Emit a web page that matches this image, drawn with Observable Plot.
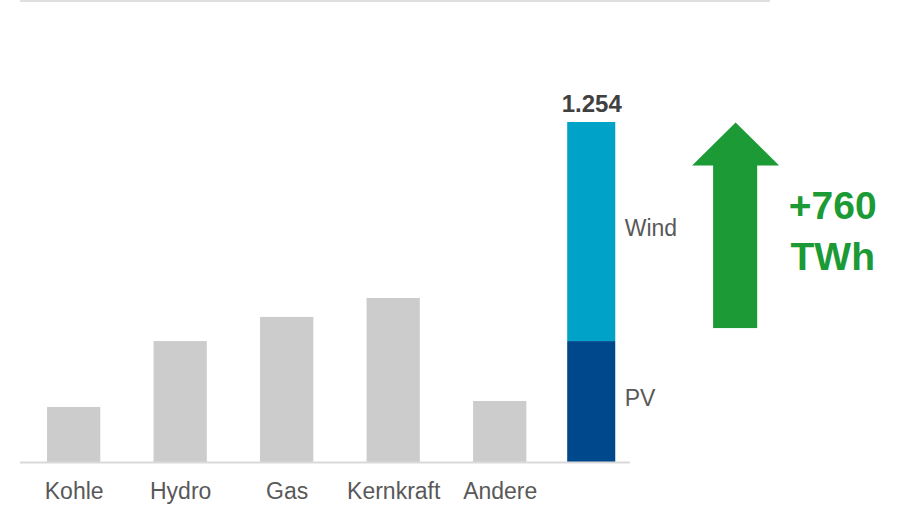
<!DOCTYPE html>
<html>
<head>
<meta charset="utf-8">
<script src="https://cdn.jsdelivr.net/npm/d3@7"></script>
<script src="https://cdn.jsdelivr.net/npm/@observablehq/plot@0.6"></script>
<style>
  html, body { margin: 0; padding: 0; background: #fff; }
  #chart { position: relative; width: 897px; height: 507px; }
  #chart .topline { position: absolute; left: 20px; top: 0; width: 750px; height: 2px; background: #e0e0e0; }
  #chart svg { display: block; }
</style>
</head>
<body>
<div id="chart"><div class="topline"></div></div>
<script>
// Stromerzeugung nach Quelle (TWh)
const categories = ["Kohle", "Hydro", "Gas", "Kernkraft", "Andere"];
const generation = [203, 446, 535, 605, 225];

// Erneuerbare, gestapelt
const renewableSources = ["PV", "Wind"];
const renewableGeneration = [446, 808];

// Zuwachs
const increase = 760;
const increaseUnit = "TWh";

const renewablesKey = "Erneuerbare";
const growthKey = "Zuwachs";

const conventional = categories.map((c, i) => ({category: c, value: generation[i]}));
const renewables = renewableSources.map((s, i) => ({category: renewablesKey, source: s, value: renewableGeneration[i]}));
const total = d3.sum(renewableGeneration);

const de = d3.formatLocale({decimal: ",", thousands: ".", grouping: [3], currency: ["", "\u00a0€"]});
const fmt = de.format(",d");

const green = "#1b9a35";
const labelColor = "#595959";
const headLength = 43;

// Pfeilspitze als eigenes Symbol: Spitze im Ankerpunkt, Basis darunter
const arrowHead = {
  draw(context) {
    context.moveTo(0, 0);
    context.lineTo(43.5, headLength);
    context.lineTo(-43.5, headLength);
    context.closePath();
  }
};

const chart = Plot.plot({
  width: 897,
  height: 507,
  marginLeft: 20,
  marginRight: 267,
  marginTop: 122,
  marginBottom: 45,
  style: {fontFamily: "'Liberation Sans', Arial, sans-serif", fontSize: "23px", color: labelColor, background: "transparent"},
  x: {
    domain: [...categories, renewablesKey, growthKey],
    range: [20.4, 766],
    round: false,
    paddingInner: 0.5,
    paddingOuter: 0.25,
    tickSize: 0,
    tickPadding: 20,
    tickFormat: d => categories.includes(d) ? d : "",
    label: null
  },
  y: {domain: [0, total], axis: null},
  color: {domain: renewableSources, range: ["#00488c", "#00a3c7"]},
  marks: [
    Plot.barY(conventional, {x: "category", y: "value", fill: "#cccccc"}),
    Plot.barY(renewables, {x: "category", y: "value", fill: "source", dx: -15, insetLeft: 2.6, insetRight: 2.6}),
    Plot.ruleY([0], {stroke: "#d9d9d9", strokeWidth: 2}),
    Plot.text(renewables, Plot.stackY({
      x: "category", y: "value", text: "source",
      textAnchor: "start", dx: 18, dy: -3, fontSize: 23, fill: labelColor
    })),
    Plot.text([{category: renewablesKey, value: total}], {
      x: "category", y: "value", text: d => fmt(d.value),
      dx: -15, dy: -18, fontSize: 24, fontWeight: "bold", fill: "#404040"
    }),
    // Pfeil: Schaft von (Summe - Zuwachs) bis unter die Spitze
    Plot.barY([{category: growthKey, y1: total - increase, y2: total}], {
      x: "category", y1: "y1", y2: "y2", fill: green, dx: 22.4,
      insetLeft: 4.6, insetRight: 4.6, insetTop: headLength - 1
    }),
    Plot.dot([{category: growthKey, value: total}], {
      x: "category", y: "value", symbol: arrowHead, fill: green, stroke: "none", dx: 22.4
    }),
    Plot.text([{category: growthKey, value: total - increase / 2}], {
      x: "category", y: "value", text: d => `+${increase}\n${increaseUnit}`,
      dx: 119.5, dy: 3, fontSize: 39, fontWeight: "bold", fill: green, lineHeight: 1.3
    })
  ]
});

document.getElementById("chart").appendChild(chart);
</script>
</body>
</html>
